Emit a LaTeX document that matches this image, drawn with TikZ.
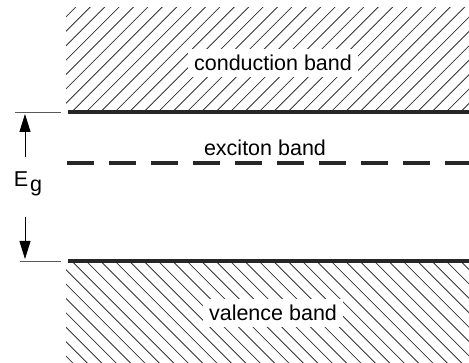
\documentclass[tikz,border=0pt]{standalone}
\usepackage{fontspec}
\setmainfont{Liberation Sans}
\usetikzlibrary{arrows.meta}

\tikzset{
	band edge/.style={line width=3.2pt, black!85},
	level tick/.style={line width=0.7pt, black!65},
	hatch/.style={line width=0.8pt, black!80},
	band label/.style={fill=white, inner xsep=6pt, inner ysep=6pt, font=\fontsize{21.5}{25}\selectfont},
	gap arrow/.style={line width=0.8pt, -{Triangle[length=18pt, width=11pt]}}
}

\begin{document}
\begin{tikzpicture}[x=1pt, y=-1pt]
	\useasboundingbox (0, 0) rectangle (469, 363);
	% conduction band hatching
	\begin{scope}
		\clip (66, 8) rectangle (469, 112);
		\foreach \k in {-8,...,28}
			\draw[hatch] ({71.7+14.4*\k}, 112) -- ++(110, -110);
	\end{scope}
	% valence band hatching
	\begin{scope}
		\clip (66, 261) rectangle (469, 363);
		\foreach \k in {-8,...,28}
			\draw[hatch] ({71.7+14.4*\k}, 261) -- ++(110, 110);
	\end{scope}
	% band edges
	\coordinate (cbl) at (68, 112);
	\coordinate (cbr) at (469, 112);
	\coordinate (vbl) at (68, 261);
	\coordinate (vbr) at (469, 261);
	\coordinate (exl) at (67, 163);
	\coordinate (exr) at (469, 163);
	\draw[band edge] (cbl) -- (cbr);
	\draw[band edge] (vbl) -- (vbr);
	\draw[band edge, dash pattern=on 27pt off 15pt] (exl) -- (exr);
	% ticks at the left
	\coordinate (ctl) at (15, 112);
	\coordinate (ctr) at (61, 112);
	\coordinate (vtl) at (20, 261);
	\coordinate (vtr) at (61, 261);
	\draw[level tick] (ctl) -- (ctr);
	\draw[level tick] (vtl) -- (vtr);
	% gap
	\node (eg) at (28, 184){\fontsize{21.5}{25}\selectfont E\kern2pt\raisebox{-0.45ex}{g}};
	\coordinate (upend) at (25, 114);
	\coordinate (upstart) at (25, 157);
	\coordinate (dnstart) at (25, 217);
	\coordinate (dnend) at (25, 259);
	\draw[gap arrow] (upstart) -- (upend);
	\draw[gap arrow] (dnstart) -- (dnend);
	% labels
	\node[band label] (cb) at (273, 63){conduction band};
	\node[font=\fontsize{21.5}{25}\selectfont] (ex) at (265, 148){exciton band};
	\node[band label] (vb) at (273, 313){valence band};
\end{tikzpicture}
\end{document}
